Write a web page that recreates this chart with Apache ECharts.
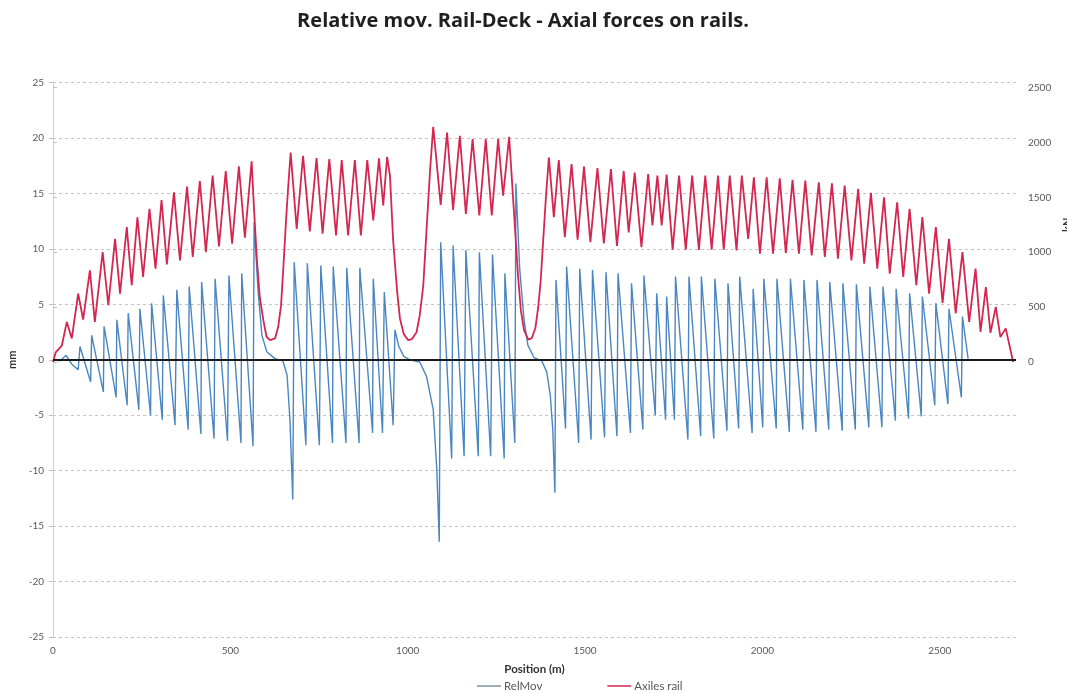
<!DOCTYPE html>
<html>
<head>
<meta charset="utf-8">
<script src="https://cdn.jsdelivr.net/npm/echarts@6/dist/echarts.min.js"></script>
<style>
  html, body { margin: 0; padding: 0; background: #ffffff; }
  #chart { width: 1067px; height: 693px; }
</style>
</head>
<body>
<div id="chart"></div>
<script>
// Chart text
const chartTitle = 'Relative mov. Rail-Deck - Axial forces on rails.';
const xAxisName = 'Position (m)';
const leftAxisName = 'mm';
const rightAxisName = 'kN';
const seriesNames = ['RelMov', 'Axiles rail'];

// Axial force in the rail (kN) along the track
const railPos = [
  0, 8, 25, 39, 53, 71, 85, 104, 118, 140, 156, 175, 189, 208, 222, 238, 254, 272, 289, 306,
  321, 341, 358, 378, 394, 414, 431, 450, 468, 487, 505, 524, 541, 560, 567, 575, 583, 593, 602, 612,
  626, 635, 643, 649, 657, 663, 670, 687, 705, 724, 743, 760, 779, 798, 814, 832, 851, 868, 886, 903,
  919, 931, 942, 950, 959, 970, 978, 989, 1001, 1012, 1025, 1034, 1044, 1053, 1063, 1072, 1093, 1111, 1128, 1147,
  1164, 1183, 1202, 1220, 1237, 1255, 1269, 1286, 1294, 1302, 1311, 1319, 1328, 1340, 1350, 1360, 1368, 1375, 1382, 1390,
  1398, 1412, 1426, 1443, 1462, 1479, 1497, 1515, 1535, 1553, 1573, 1590, 1609, 1623, 1640, 1659, 1678, 1690, 1704, 1716,
  1730, 1747, 1765, 1784, 1802, 1821, 1839, 1857, 1875, 1891, 1908, 1927, 1942, 1960, 1976, 1993, 2012, 2030, 2049, 2066,
  2085, 2103, 2121, 2139, 2159, 2176, 2196, 2213, 2232, 2251, 2270, 2287, 2306, 2324, 2343, 2359, 2380, 2397, 2415, 2434,
  2451, 2470, 2489, 2508, 2526, 2545, 2564, 2583, 2601, 2615, 2630, 2643, 2658, 2671, 2686, 2707
];
const railForce = [
  0, 90, 150, 365, 215, 623, 387, 835, 366, 1001, 517, 1122, 623, 1228, 699, 1318, 774, 1395, 850, 1475,
  889, 1545, 926, 1597, 956, 1647, 1001, 1697, 1053, 1738, 1077, 1781, 1132, 1827, 1379, 926, 590, 381, 230, 200,
  215, 320, 517, 835, 1289, 1591, 1908, 1213, 1878, 1189, 1858, 1168, 1848, 1152, 1839, 1152, 1839, 1152, 1839, 1289,
  1854, 1425, 1869, 1697, 1107, 653, 399, 254, 200, 209, 272, 426, 699, 1198, 1742, 2142, 1431, 2090, 1386, 2060,
  1349, 2030, 1334, 2030, 1334, 2030, 1515, 2051, 1652, 1243, 789, 472, 290, 204, 218, 309, 499, 744, 1107, 1515,
  1863, 1319, 1838, 1137, 1803, 1113, 1779, 1092, 1767, 1080, 1758, 1057, 1740, 1180, 1724, 1046, 1712, 1243, 1697, 1243,
  1706, 1023, 1697, 1023, 1697, 1021, 1697, 1023, 1697, 1023, 1697, 1016, 1697, 1122, 1682, 986, 1682, 986, 1672, 992,
  1658, 986, 1652, 971, 1636, 956, 1627, 941, 1606, 926, 1576, 896, 1540, 850, 1500, 805, 1455, 774, 1395, 699,
  1319, 623, 1228, 538, 1122, 442, 1001, 366, 850, 275, 683, 266, 502, 227, 306, 0
];

// Relative movement rail - deck (mm) along the track
const relPos = [
  0, 20, 37, 53, 71, 76, 106, 109, 142, 144, 178, 180, 209, 212, 242, 245, 275, 278, 308, 311,
  344, 349, 381, 384, 417, 419, 454, 457, 492, 496, 530, 532, 564, 567, 578, 589, 603, 626, 648, 660,
  668, 676, 680, 713, 717, 751, 755, 788, 790, 826, 828, 863, 865, 901, 903, 929, 934, 959, 964, 975,
  989, 1006, 1034, 1053, 1072, 1082, 1089, 1093, 1124, 1128, 1159, 1164, 1199, 1202, 1234, 1239, 1272, 1274, 1302, 1305,
  1316, 1328, 1339, 1356, 1378, 1392, 1402, 1409, 1415, 1418, 1445, 1448, 1482, 1485, 1517, 1521, 1555, 1559, 1590, 1593,
  1628, 1631, 1663, 1666, 1698, 1702, 1727, 1730, 1752, 1755, 1790, 1793, 1826, 1828, 1863, 1866, 1900, 1903, 1933, 1936,
  1971, 1974, 2001, 2004, 2039, 2041, 2076, 2079, 2114, 2117, 2151, 2154, 2187, 2190, 2225, 2227, 2262, 2265, 2300, 2303,
  2337, 2340, 2375, 2377, 2412, 2415, 2448, 2451, 2486, 2489, 2523, 2526, 2561, 2564, 2580
];
const relMov = [
  0, -0.1, 0.4, -0.4, -0.9, 1.2, -2.0, 2.2, -2.9, 3.0, -3.4, 3.6, -4.1, 4.2, -4.5, 4.6, -5.0, 5.1, -5.4, 5.8,
  -5.9, 6.3, -6.3, 6.6, -6.7, 7.0, -7.1, 7.3, -7.3, 7.6, -7.5, 7.8, -7.8, 12.4, 6.3, 2.2, 0.7, 0.1, -0.1, -1.4,
  -5.4, -12.6, 8.8, -7.7, 8.7, -7.7, 8.5, -7.5, 8.4, -7.5, 8.3, -7.5, 8.3, -6.6, 7.3, -6.6, 6.1, -5.9, 2.7, 1.2,
  0.3, 0, -0.2, -1.5, -4.5, -9.9, -16.4, 10.6, -8.9, 10.3, -8.7, 9.9, -8.7, 9.7, -8.7, 9.5, -8.9, 7.8, -7.5, 15.9,
  8.1, 3.6, 1.3, 0.2, -0.1, -1.1, -3.2, -6.3, -12.0, 7.2, -6.2, 8.4, -7.5, 8.2, -7.2, 8.1, -7.0, 7.9, -6.9, 7.8,
  -6.6, 6.9, -6.3, 7.6, -5.0, 6.0, -5.4, 5.7, -5.4, 7.5, -7.2, 7.5, -6.9, 7.5, -7.1, 7.3, -6.4, 6.9, -6.2, 7.5,
  -6.6, 6.4, -6.1, 7.3, -6.2, 7.3, -6.5, 7.3, -6.3, 7.2, -6.5, 7.2, -6.3, 7.0, -6.4, 6.9, -6.3, 6.8, -6.1, 6.6,
  -6.1, 6.6, -5.5, 6.4, -5.3, 6.0, -5.1, 5.7, -4.1, 5.1, -4.0, 4.6, -3.4, 3.9, 0.1
];

const FONT = 'Lato, "Open Sans", "DejaVu Sans", sans-serif';
const TITLE_FONT = '"Open Sans", Lato, sans-serif';
const LABEL_GREY = '#595959';
const REL_COLOR = '#4a86c2';
const RAIL_COLOR = '#d4264f';

const pairs = (xs, ys) => xs.map((x, i) => [x, ys[i]]);

const chart = echarts.init(document.getElementById('chart'), null, { renderer: 'canvas' });

chart.setOption({
  animation: false,
  backgroundColor: '#ffffff',
  title: {
    text: chartTitle,
    left: 518,
    textAlign: 'center',
    top: 6,
    textStyle: { fontFamily: TITLE_FONT, fontSize: 20, fontWeight: 'bold', color: '#1f1f1f' }
  },
  legend: {
    left: 477,
    top: 680,
    padding: 0,
    icon: 'rect',
    itemWidth: 24,
    itemHeight: 1.5,
    itemGap: 65,
    textStyle: { fontFamily: FONT, fontSize: 11.5, color: LABEL_GREY, padding: [0, 0, 0, -2] },
    data: [
      { name: seriesNames[0], itemStyle: { color: '#7f93a7' } },
      { name: seriesNames[1], itemStyle: { color: RAIL_COLOR } }
    ]
  },
  // two plot areas: the full one for mm, the upper half for kN
  grid: [
    { left: 53, right: 51, top: 82.5, bottom: 56, outerBoundsMode: 'none', containLabel: false },
    { left: 53, right: 51, top: 87.5, height: 274.5, outerBoundsMode: 'none', containLabel: false }
  ],
  xAxis: [
    {
      gridIndex: 0, type: 'value', min: 0, max: 2715, interval: 500,
      axisLine: { show: false },
      axisTick: { show: false },
      splitLine: { show: false },
      axisLabel: {
        fontFamily: FONT, fontSize: 10, color: LABEL_GREY, margin: 9,
        formatter: v => (v % 500 === 0 ? String(v) : '')
      },
      name: xAxisName, nameLocation: 'middle', nameGap: 26,
      nameTextStyle: { fontFamily: FONT, fontSize: 11.5, fontWeight: 'bold', color: '#333333' }
    },
    { gridIndex: 1, type: 'value', min: 0, max: 2715, show: false }
  ],
  yAxis: [
    {
      gridIndex: 0, type: 'value', min: -25, max: 25, interval: 5, position: 'left',
      axisLine: { show: true, lineStyle: { color: '#d0d0d0', width: 1 } },
      axisTick: { show: true, length: 4, lineStyle: { color: '#c0c0c0' } },
      splitLine: { show: true, lineStyle: { color: '#c4c4c4', type: [3, 3], width: 1 } },
      axisLabel: { fontFamily: FONT, fontSize: 10, color: LABEL_GREY, margin: 9 },
      name: leftAxisName, nameLocation: 'middle', nameGap: 33,
      nameTextStyle: { fontFamily: FONT, fontSize: 11, fontWeight: 'bold', color: '#333333' }
    },
    {
      gridIndex: 1, type: 'value', min: 0, max: 2500, interval: 500, position: 'right',
      axisLine: { show: true, lineStyle: { color: '#d0d0d0', width: 1 } },
      axisTick: { show: true, length: 4, lineStyle: { color: '#c0c0c0' } },
      splitLine: { show: false },
      axisLabel: { fontFamily: FONT, fontSize: 10, color: LABEL_GREY, margin: 12, formatter: v => String(v) },
      name: rightAxisName, nameLocation: 'middle', nameGap: 40,
      nameTextStyle: { fontFamily: FONT, fontSize: 11, fontWeight: 'bold', color: '#333333' }
    }
  ],
  series: [
    {
      name: seriesNames[0],
      type: 'line',
      xAxisIndex: 0, yAxisIndex: 0,
      data: pairs(relPos, relMov),
      symbol: 'none',
      lineStyle: { color: REL_COLOR, width: 1.4 },
      itemStyle: { color: REL_COLOR },
      z: 3,
      markLine: {
        silent: true,
        symbol: 'none',
        label: { show: false },
        lineStyle: { color: '#1a1a1a', width: 2, type: 'solid' },
        data: [{ yAxis: 0 }]
      }
    },
    {
      name: seriesNames[1],
      type: 'line',
      xAxisIndex: 1, yAxisIndex: 1,
      data: pairs(railPos, railForce),
      symbol: 'none',
      lineStyle: { color: RAIL_COLOR, width: 1.8 },
      itemStyle: { color: RAIL_COLOR },
      z: 4
    }
  ]
});
</script>
</body>
</html>
